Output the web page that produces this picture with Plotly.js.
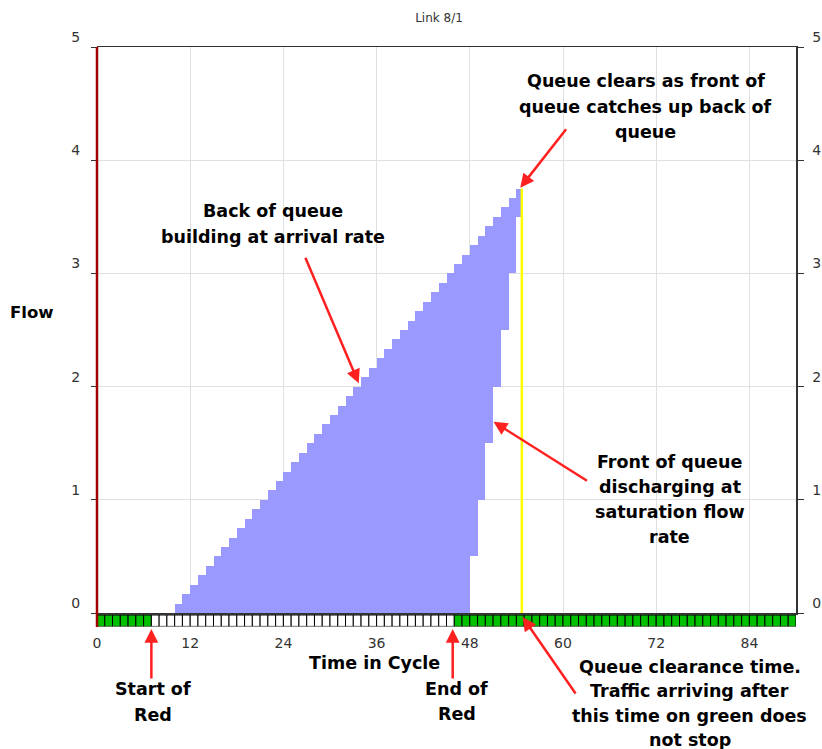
<!DOCTYPE html>
<html>
<head>
<meta charset="utf-8">
<script src="https://cdn.plot.ly/plotly-3.0.1.min.js"></script>
<style>html,body{margin:0;padding:0;background:#fff;}#chart{width:822px;height:749px;}</style>
</head>
<body>
<div id="chart"></div>
<script>
// ---- data ----
// queue columns (start time of each 1 s column, seconds into cycle)
const queueStart = [10,11,12,13,14,15,16,17,18,19,20,21,22,23,24,25,26,27,28,29,30,31,32,33,34,35,36,37,38,39,40,41,42,43,44,45,46,47,48,49,50,51,52,53,54];
// back of queue (top of each column)
const backOfQueue = [0.083,0.167,0.25,0.333,0.417,0.5,0.583,0.667,0.75,0.833,0.917,1.0,1.083,1.167,1.25,1.333,1.417,1.5,1.583,1.667,1.75,1.833,1.917,2.0,2.083,2.167,2.25,2.333,2.417,2.5,2.583,2.667,2.75,2.833,2.917,3.0,3.083,3.167,3.25,3.333,3.417,3.5,3.583,3.667,3.75];
// front of queue (bottom of each column)
const frontOfQueue = [0,0,0,0,0,0,0,0,0,0,0,0,0,0,0,0,0,0,0,0,0,0,0,0,0,0,0,0,0,0,0,0,0,0,0,0,0,0,0.5,1.0,1.5,2.0,2.5,3.0,3.5];
// queue clearance time (yellow line) and its height
const clearanceTime = 54.7;
const clearanceTop = 3.75;
// signal phases along the cycle
const phaseStart = [0, 7, 46];
const phaseEnd = [7, 46, 90];
const phaseState = ['green', 'red', 'green'];
// axis ticks
const xTicks = [0, 12, 24, 36, 48, 60, 72, 84];
const yTicks = [0, 1, 2, 3, 4, 5];

// ---- derived ----
const queueBase = frontOfQueue;
const queueHeight = backOfQueue.map((b, i) => b - frontOfQueue[i]);
const queueWidth = queueStart.map(s => Math.min(1, clearanceTime - s));
const cellX = [], cellColor = [];
phaseStart.forEach((s, i) => {
  for (let t = s; t < phaseEnd[i]; t++) {
    cellX.push(t);
    cellColor.push(phaseState[i] === 'green' ? '#00c000' : '#ffffff');
  }
});

// ---- layout geometry ----
const ML = 97, MR = 26, MT = 47, MB = 122, W = 822, H = 749;
const PW = W - ML - MR, PH = H - MT - MB;
const px2x = p => (p - ML) / PW;
const py2y = p => (H - MB - p) / PH;

const tickFont = {family: 'DejaVu Sans', size: 14, color: '#333'};
const boldFont = {family: 'DejaVu Sans', size: 17.5, color: '#000'};
const arrowRed = '#ff2020';

const traces = [
  {
    type: 'bar', x: queueStart, y: queueHeight, base: queueBase, width: queueWidth, offset: 0,
    marker: {color: '#9999ff', line: {width: 0}}, xaxis: 'x', yaxis: 'y', hoverinfo: 'skip', showlegend: false
  },
  {
    type: 'scatter', mode: 'lines', x: [clearanceTime, clearanceTime], y: [0, clearanceTop],
    line: {color: '#ffff00', width: 2.5}, xaxis: 'x', yaxis: 'y', hoverinfo: 'skip', showlegend: false
  },
  {
    type: 'bar', x: cellX, y: cellX.map(() => 1), width: 1, offset: 0,
    marker: {color: cellColor, line: {color: '#000', width: 1}}, xaxis: 'x2', yaxis: 'y2', hoverinfo: 'skip', showlegend: false
  },
  {
    type: 'scatter', mode: 'lines', x: [0], y: [0], xaxis: 'x', yaxis: 'y3', hoverinfo: 'skip', showlegend: false,
    line: {width: 0}
  }
];

const annotations = [];
function textBlock(lines, cx, y0, dy, font) {
  lines.forEach((l, i) => annotations.push({
    text: '<b>' + l + '</b>', xref: 'paper', yref: 'paper', x: px2x(cx), y: py2y(y0 + i * dy),
    xanchor: 'center', yanchor: 'middle', showarrow: false, font: font || boldFont
  }));
}
textBlock(['Queue clears as front of', 'queue catches up back of', 'queue'], 645.5, 81, 25.5);
textBlock(['Back of queue', 'building at arrival rate'], 273, 210.5, 26);
textBlock(['Front of queue', 'discharging at', 'saturation flow', 'rate'], 669.5, 462, 25);
textBlock(['Start of', 'Red'], 153, 689, 25.5);
textBlock(['End of', 'Red'], 456.5, 688.5, 25.5);
textBlock(['Queue clearance time.', 'Traffic arriving after', 'this time on green does', 'not stop'], 689.5, 666.5, 24.5);
textBlock(['Time in Cycle'], 374.5, 663, 0, {family: 'DejaVu Sans', size: 17.5, color: '#000'});
textBlock(['Flow'], 32, 312, 0, {family: 'DejaVu Sans', size: 16.5, color: '#000'});

function arrow(x, y, xref, yref, ax, ay) {
  annotations.push({
    text: '', x: x, y: y, xref: xref, yref: yref, ax: ax, ay: ay, showarrow: true,
    arrowhead: 2, arrowsize: 1.1, arrowwidth: 2.5, arrowcolor: arrowRed, standoff: 0, startstandoff: 0
  });
}
arrow(54.5, 3.757, 'x', 'y', 47, -60);
arrow(33.7, 2.03, 'x', 'y', -54, -127);
arrow(51.05, 1.69, 'x', 'y', 95, 60);
arrow(7, py2y(629), 'x', 'paper', 0, 51);
arrow(45.8, py2y(629), 'x', 'paper', 0, 51);
arrow(54.8, py2y(617), 'x', 'paper', 54, 78);

const stripTop = 12 / PH, mainBottom = 14 / PH;

const layout = {
  width: W, height: H,
  margin: {l: ML, r: MR, t: MT, b: MB, pad: 0},
  paper_bgcolor: '#fff', plot_bgcolor: 'rgba(0,0,0,0)',
  title: {text: 'Link 8/1', font: {family: 'DejaVu Sans', size: 12, color: '#333'},
          xref: 'paper', x: px2x(439), xanchor: 'center', yref: 'container', y: 1 - 18 / H, yanchor: 'middle'},
  showlegend: false,
  bargap: 0,
  xaxis: {
    domain: [0, 1], anchor: 'y', range: [0, 90], tickvals: xTicks, showticklabels: false,
    showgrid: true, gridcolor: '#e0e0e0', gridwidth: 1, zeroline: false,
    showline: true, linecolor: '#333', linewidth: 1.5, mirror: true,
    ticks: 'outside', ticklen: 4, tickcolor: '#333', fixedrange: true
  },
  xaxis2: {
    domain: [0, 1], anchor: 'y2', range: [0, 90], tickvals: xTicks, showticklabels: true,
    tickfont: tickFont, showgrid: false, zeroline: false, showline: false, ticks: '', ticklabelstandoff: 7, fixedrange: true
  },
  yaxis: {
    domain: [mainBottom, 1], anchor: 'x', range: [0, 5], tickvals: yTicks, tickfont: tickFont,
    showgrid: true, gridcolor: '#e0e0e0', zeroline: false, showline: false,
    ticks: 'outside', ticklen: 5, tickcolor: '#333', ticklabelstandoff: 8, ticklabelshift: -10, fixedrange: true
  },
  yaxis2: {
    domain: [0.001, stripTop], anchor: 'x2', range: [0, 1], showticklabels: false, showgrid: false,
    zeroline: false, showline: false, ticks: '', fixedrange: true
  },
  yaxis3: {
    overlaying: 'y', anchor: 'x', side: 'right', range: [0, 5], tickvals: yTicks, tickfont: tickFont,
    showgrid: false, zeroline: false, showline: true, linecolor: '#333', linewidth: 1.5,
    ticks: 'outside', ticklen: 6, tickcolor: '#333', ticklabelstandoff: 6, ticklabelshift: -10, fixedrange: true
  },
  shapes: [
    {type: 'line', xref: 'paper', yref: 'paper', x0: 0, x1: 0, y0: 0, y1: 1, line: {color: '#a00000', width: 2.5}, layer: 'above'}
  ],
  annotations: annotations
};

Plotly.newPlot('chart', traces, layout, {displayModeBar: false, staticPlot: true});
</script>
</body>
</html>
